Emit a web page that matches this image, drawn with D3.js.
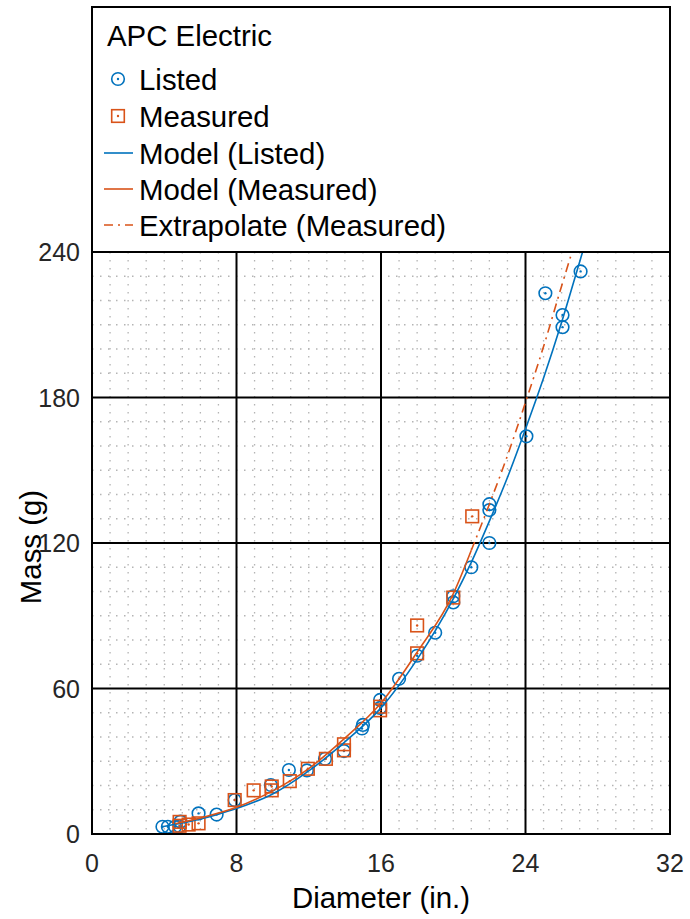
<!DOCTYPE html>
<html><head><meta charset="utf-8">
<script src="https://cdn.jsdelivr.net/npm/d3@7"></script>
<style>body{margin:0;background:#fff}svg{display:block;font-family:"Liberation Sans",Arial,sans-serif}</style>
</head><body><svg id="c" width="690" height="919"></svg>
<script>
// ---- data ----
const listedD = [3.9,4.2,4.6,4.85,4.9,5.9,6.9,7.9,9.9,10.9,11.9,12.9,13.95,14.95,15.0,15.95,15.95,17.0,18.0,19.0,20.0,20.0,21.0,22.0,22.0,22.0,24.05,25.1,26.05,26.05,27.05];
const listedM = [3.0,3.0,3.0,3.2,5.1,8.5,8.0,14.0,20.2,26.4,26.2,31.0,34.2,43.5,45.0,55.3,52.0,64.0,73.5,83.0,95.5,98.0,110.0,120.0,133.6,136.0,164.0,223.0,214.0,209.0,232.0];
const measD = [4.85,4.85,5.35,5.9,7.9,8.95,9.95,9.95,10.95,11.95,12.95,13.95,13.95,15.95,15.95,18.0,18.0,20.0,21.05];
const measM = [3.4,5.0,3.9,4.4,14.0,18.0,19.6,18.0,21.8,26.9,31.0,37.0,34.5,52.5,51.0,74.5,86.0,97.5,131.0];
const modelListedD = [3.9,5,6,7,8,10,12,14,16,18,20,21,22,23,24,25,26,27,27.2];
const modelListedM = [3.0,4.5,6.2,8.2,10.5,16.5,26,38,52,72,97,112,129,147,167,188,211,236,241];
const modelMeasD = [4.6,6,8,10,12,14,16,18,20,21];
const modelMeasM = [4.2,6.6,11,17.8,27,39.5,54,75,99,117];
const extrapD = [21,22,23,24,25,26,26.7];
const extrapM = [117,136,156,178,201,226,243];
const xTicks = [0,8,16,24,32];
const yTicks = [0,60,120,180,240];
const legendTitle = "APC Electric";
const legendLabels = ["Listed","Measured","Model (Listed)","Model (Measured)","Extrapolate (Measured)"];

const BLUE = "#0072BD", ORANGE = "#D95319";
const svg = d3.select("#c");
const L = 92, R = 670, T = 252, B = 834;
const x = d3.scaleLinear().domain([0,32]).range([L,R]);
const y = d3.scaleLinear().domain([0,240]).range([B,T]);

// minor grid
const g = svg.append("g");
g.selectAll(".mx").data(d3.range(1,32).filter(v=>v%8)).join("line")
  .attr("x1",d=>x(d)).attr("x2",d=>x(d)).attr("y1",T).attr("y2",B)
  .attr("stroke","#b4b4b4").attr("stroke-width",1.3).attr("stroke-dasharray","1.5,6.5");
g.selectAll(".my").data(d3.range(10,240,10).filter(v=>v%60)).join("line")
  .attr("y1",d=>y(d)).attr("y2",d=>y(d)).attr("x1",L).attr("x2",R)
  .attr("stroke","#b4b4b4").attr("stroke-width",1.3).attr("stroke-dasharray","1.5,6.5");
// major grid
g.selectAll(".gx").data(xTicks.slice(1,-1)).join("line")
  .attr("x1",d=>x(d)).attr("x2",d=>x(d)).attr("y1",T).attr("y2",B)
  .attr("stroke","#000").attr("stroke-width",2);
g.selectAll(".gy").data(yTicks.slice(1,-1)).join("line")
  .attr("y1",d=>y(d)).attr("y2",d=>y(d)).attr("x1",L).attr("x2",R)
  .attr("stroke","#000").attr("stroke-width",2);

// clip
svg.append("clipPath").attr("id","clip").append("rect").attr("x",L).attr("y",T).attr("width",R-L).attr("height",B-T);
const plot = svg.append("g").attr("clip-path","url(#clip)");

// markers
const pl = plot.append("g");
listedD.forEach((d,i)=>{
  pl.append("circle").attr("cx",x(d)).attr("cy",y(listedM[i])).attr("r",6.3)
    .attr("fill","none").attr("stroke",BLUE).attr("stroke-width",1.6);
  pl.append("circle").attr("cx",x(d)).attr("cy",y(listedM[i])).attr("r",1.2).attr("fill",BLUE);
});
measD.forEach((d,i)=>{
  pl.append("rect").attr("x",x(d)-6.3).attr("y",y(measM[i])-6.3).attr("width",12.6).attr("height",12.6)
    .attr("fill","none").attr("stroke",ORANGE).attr("stroke-width",1.6);
  pl.append("circle").attr("cx",x(d)).attr("cy",y(measM[i])).attr("r",1.2).attr("fill",ORANGE);
});

// lines
const line = d3.line().x(d=>x(d[0])).y(d=>y(d[1])).curve(d3.curveMonotoneX);
plot.append("path").attr("d",line(d3.zip(modelListedD,modelListedM))).attr("fill","none").attr("stroke",BLUE).attr("stroke-width",1.6);
plot.append("path").attr("d",line(d3.zip(modelMeasD,modelMeasM))).attr("fill","none").attr("stroke",ORANGE).attr("stroke-width",1.6);
plot.append("path").attr("d",line(d3.zip(extrapD,extrapM))).attr("fill","none").attr("stroke",ORANGE).attr("stroke-width",1.6).attr("stroke-dasharray","9,5,2,5");

// axes box
svg.append("rect").attr("x",L).attr("y",T).attr("width",R-L).attr("height",B-T).attr("fill","none").attr("stroke","#000").attr("stroke-width",2);

// tick labels
svg.append("g").selectAll("text").data(xTicks).join("text")
  .attr("x",d=>x(d)).attr("y",872).attr("text-anchor","middle").attr("font-size",25).attr("fill","#262626").text(d=>d);
svg.append("g").selectAll("text").data(yTicks).join("text")
  .attr("x",80).attr("y",d=>y(d)+9).attr("text-anchor","end").attr("font-size",25).attr("fill","#262626").text(d=>d);
svg.append("text").attr("x",(L+R)/2).attr("y",908).attr("text-anchor","middle").attr("font-size",29.4).attr("fill","#000").text("Diameter (in.)");
svg.append("text").attr("transform",`translate(41,${(T+B)/2+4}) rotate(-90)`).attr("text-anchor","middle").attr("font-size",29.4).attr("fill","#000").text("Mass (g)");

// legend
const lg = svg.append("g");
lg.append("rect").attr("x",L).attr("y",7).attr("width",R-L).attr("height",T-7).attr("fill","#fff").attr("stroke","#000").attr("stroke-width",2);
lg.append("text").attr("x",107).attr("y",46).attr("font-size",29.4).attr("fill","#000").text(legendTitle);
const rowY = [79,116,153,189,225];
legendLabels.forEach((t,i)=>{
  lg.append("text").attr("x",139).attr("y",rowY[i]+10.5).attr("font-size",29.4).attr("fill","#000").text(t);
});
lg.append("circle").attr("cx",118).attr("cy",rowY[0]).attr("r",6.3).attr("fill","none").attr("stroke",BLUE).attr("stroke-width",1.6);
lg.append("circle").attr("cx",118).attr("cy",rowY[0]).attr("r",1.2).attr("fill",BLUE);
lg.append("rect").attr("x",111.7).attr("y",rowY[1]-6.3).attr("width",12.6).attr("height",12.6).attr("fill","none").attr("stroke",ORANGE).attr("stroke-width",1.6);
lg.append("circle").attr("cx",118).attr("cy",rowY[1]).attr("r",1.2).attr("fill",ORANGE);
lg.append("line").attr("x1",104).attr("x2",133).attr("y1",rowY[2]).attr("y2",rowY[2]).attr("stroke",BLUE).attr("stroke-width",1.6);
lg.append("line").attr("x1",104).attr("x2",133).attr("y1",rowY[3]).attr("y2",rowY[3]).attr("stroke",ORANGE).attr("stroke-width",1.6);
lg.append("line").attr("x1",104).attr("x2",133).attr("y1",rowY[4]).attr("y2",rowY[4]).attr("stroke",ORANGE).attr("stroke-width",1.6).attr("stroke-dasharray","9,5,2,5");
</script></body></html>
